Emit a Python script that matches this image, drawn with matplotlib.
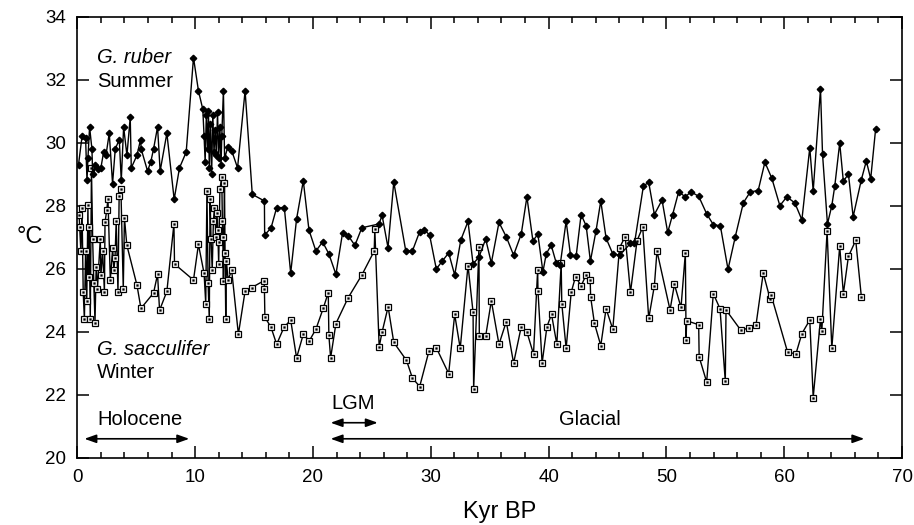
import matplotlib
matplotlib.use("Agg")
import matplotlib.pyplot as plt
from matplotlib.ticker import MultipleLocator

plt.rcParams['font.family'] = ['Liberation Sans', 'DejaVu Sans']

# G. ruber (summer) - age in kyr BP, temperature in deg C
ruber_age = [0.1, 0.4, 0.7, 0.82, 0.9, 1.04, 1.24, 1.3, 1.5, 1.72, 2.0, 2.23, 2.43, 2.71, 2.99,
             3.22, 3.56, 3.73, 3.93, 4.21, 4.49, 4.58, 5.06, 5.37, 5.42, 5.96, 6.24, 6.47, 6.81,
             7.03, 7.6, 8.22, 8.67, 9.24, 9.86, 10.28, 10.65, 10.76, 10.85, 10.95, 11.05, 11.13,
             11.2, 11.3, 11.4, 11.5, 11.6, 11.7, 11.8, 11.9, 12.0, 12.1, 12.2, 12.26, 12.4, 12.5,
             12.76, 13.1, 13.6, 14.24, 14.85, 15.88, 15.9, 16.44, 16.92, 17.57, 18.11, 18.61,
             19.18, 19.66, 20.25, 20.82, 21.35, 21.95, 22.51, 22.99, 23.56, 24.15, 25.6, 25.87,
             26.37, 26.86, 27.88, 28.44, 29.06, 29.43, 29.9, 30.47, 30.95, 31.52, 32.03, 32.55,
             33.16, 33.59, 34.09, 34.66, 35.14, 35.79, 36.41, 37.03, 37.68, 38.16, 38.67, 39.09,
             39.52, 39.8, 40.22, 40.65, 40.98, 41.49, 41.86, 42.34, 42.76, 43.19, 43.55, 44.03,
             44.43, 44.88, 45.45, 46.02, 46.95, 47.29, 48.05, 48.5, 48.98, 49.63, 50.11, 50.53,
             51.04, 51.61, 52.08, 52.74, 53.42, 53.98, 54.58, 55.23, 55.85, 56.53, 57.12, 57.79,
             58.36, 58.95, 59.63, 60.22, 60.9, 61.5, 62.17, 62.46, 63.08, 63.25, 63.67, 64.04,
             64.29, 64.71, 65.02, 65.45, 65.85, 66.55, 66.97, 67.34, 67.76]
ruber_temp = [29.3, 30.2, 30.15, 28.8, 29.5, 30.5, 29.8, 29.0, 29.3, 29.15, 29.2, 29.7, 29.6, 30.3, 28.7,
              29.8, 30.1, 28.8, 30.5, 29.6, 30.8, 29.2, 29.6, 30.1, 29.8, 29.1, 29.4, 29.8, 30.5,
              29.1, 30.3, 28.2, 29.2, 29.7, 32.7, 31.65, 31.06, 30.2, 29.4, 30.88, 29.8, 31.0,
              29.2, 30.6, 29.0, 30.88, 29.7, 30.4, 29.6, 30.97, 29.5, 30.5, 29.3, 30.2, 31.65, 29.5,
              29.85, 29.75, 29.2, 31.65, 28.36, 28.15, 27.07, 27.29, 27.94, 27.94, 25.86, 27.58,
              28.79, 27.23, 26.56, 26.85, 26.47, 25.82, 27.13, 27.05, 26.74, 27.3, 27.42, 27.69,
              26.67, 28.75, 26.56, 26.56, 27.18, 27.24, 27.07, 25.99, 26.23, 26.5, 25.8, 26.91,
              27.5, 26.15, 26.37, 26.94, 26.18, 27.47, 27.01, 26.43, 27.1, 28.28, 26.88, 27.1,
              25.9, 26.47, 26.75, 26.18, 26.11, 27.51, 26.43, 26.4, 27.72, 27.36, 26.24, 27.21,
              28.15, 26.97, 26.47, 26.43, 26.8, 26.8, 28.63, 28.74, 27.72, 28.18, 27.15, 27.72,
              28.44, 28.28, 28.44, 28.3, 27.74, 27.4, 27.36, 25.98, 27.02, 28.09, 28.44, 28.48,
              29.38, 28.87, 28.0, 28.28, 28.09, 27.55, 29.84, 28.47, 31.71, 29.65, 27.42, 28.0,
              28.62, 29.99, 28.77, 29.01, 27.65, 28.83, 29.42, 28.85, 30.44]

# G. sacculifer (winter)
sacc_age = [0.15, 0.2, 0.3, 0.4, 0.5, 0.6, 0.7, 0.8, 0.9, 0.95, 1.0, 1.1, 1.2, 1.3, 1.4, 1.5, 1.6,
            1.7, 1.95, 2.0, 2.15, 2.3, 2.35, 2.5, 2.6, 2.8, 3.0, 3.1, 3.2, 3.3, 3.45, 3.55, 3.7,
            3.9, 4.0, 4.2, 5.06, 5.4, 6.47, 6.81, 6.98, 7.6, 8.2, 8.25, 9.86, 10.28, 10.76, 10.9,
            11.0, 11.1, 11.2, 11.27, 11.35, 11.45, 11.55, 11.64, 11.77, 11.85, 11.92, 12.0,
            12.03, 12.1, 12.26, 12.31, 12.35, 12.4, 12.49, 12.54, 12.6, 12.65, 12.8, 13.1,
            13.67, 14.24, 14.8, 15.85, 15.88, 15.92, 16.44, 16.92, 17.54, 18.11, 18.61, 19.18,
            19.69, 20.25, 20.87, 21.3, 21.35, 21.5, 21.95, 22.99, 24.15, 25.2, 25.25, 25.62,
            25.87, 26.38, 26.86, 27.94, 28.44, 29.06, 29.85, 30.47, 31.52, 32.03, 32.5, 33.16,
            33.59, 33.64, 34.09, 34.12, 34.66, 35.14, 35.79, 36.41, 37.03, 37.68, 38.16, 38.72,
            39.07, 39.1, 39.45, 39.86, 40.25, 40.7, 41.07, 41.12, 41.49, 41.92, 42.29, 42.76,
            43.19, 43.53, 43.57, 43.89, 44.43, 44.88, 45.45, 46.02, 46.5, 46.95, 47.51, 47.99,
            48.5, 48.98, 49.2, 50.31, 50.68, 51.24, 51.61, 51.67, 51.72, 52.74, 52.78, 53.42,
            53.98, 54.55, 55.0, 55.06, 56.33, 56.98, 57.6, 58.22, 58.8, 58.9, 60.28, 60.99,
            61.5, 62.17, 62.46, 63.08, 63.19, 63.64, 64.04, 64.71, 65.02, 65.45, 66.07, 66.55]
sacc_temp = [27.72, 27.32, 26.55, 27.92, 25.25, 24.39, 26.55, 24.99, 28.02, 25.75, 27.32, 24.39, 29.2,
             26.95, 25.55, 24.29, 26.05, 25.35, 26.95, 25.8, 26.55, 25.25, 27.47, 27.87, 28.22,
             25.65, 26.65, 25.95, 26.35, 27.52, 25.25, 28.32, 28.52, 25.35, 27.62, 26.75, 25.48,
             24.74, 25.23, 25.82, 24.68, 25.28, 27.42, 26.15, 25.64, 26.77, 25.85, 24.89, 28.47,
             25.55, 24.39, 28.22, 26.95, 25.95, 27.52, 27.92, 27.0, 27.77, 27.22, 26.15, 26.85,
             28.52, 28.92, 27.52, 27.02, 25.6, 28.72, 26.5, 24.39, 26.25, 25.65, 25.95, 23.92,
             25.29, 25.4, 25.62, 25.35, 24.46, 24.14, 23.6, 24.14, 24.37, 23.17, 23.92, 23.71,
             24.08, 24.74, 25.24, 23.89, 23.17, 24.26, 25.08, 25.8, 26.56, 27.25, 23.52, 23.99,
             24.79, 23.66, 23.09, 22.53, 22.26, 23.39, 23.49, 22.67, 24.55, 23.47, 26.1, 24.62,
             22.18, 26.69, 23.86, 23.86, 24.98, 23.6, 24.32, 23.0, 24.16, 23.99, 23.29, 25.95,
             25.3, 23.0, 24.16, 24.55, 23.6, 26.17, 24.89, 23.47, 25.25, 25.75, 25.45, 25.81,
             25.65, 25.1, 24.27, 23.56, 24.73, 24.08, 26.66, 27.02, 25.25, 26.89, 27.32, 24.42,
             25.46, 26.56, 24.69, 25.5, 24.77, 26.5, 23.74, 24.35, 24.22, 23.2, 22.4, 25.21,
             24.73, 22.42, 24.69, 24.04, 24.12, 24.2, 25.86, 25.04, 25.15, 23.36, 23.29, 23.94,
             24.37, 21.91, 24.41, 24.01, 27.2, 23.47, 26.72, 25.21, 26.39, 26.9, 25.1]

fig = plt.figure(figsize=(9.14, 5.25), dpi=100)
ax = fig.add_axes([0.0846, 0.1282, 0.9023, 0.84])

ax.plot(ruber_age, ruber_temp, color='black', lw=1.0, marker='D', ms=3.3,
        mfc='black', mec='black', zorder=3)
ax.plot(sacc_age, sacc_temp, color='black', lw=1.0, marker='s', ms=4.3,
        mfc='white', mec='black', mew=0.9, zorder=2)
# small mark inside each open square, as in the original figure
ax.plot(sacc_age, sacc_temp, ls='none', marker='s', ms=1.3, mfc='black', mec='black',
        mew=0.3, zorder=2)

ax.set_xlim(0, 70)
ax.set_ylim(20, 34)
ax.xaxis.set_major_locator(MultipleLocator(10))
ax.xaxis.set_minor_locator(MultipleLocator(2))
ax.yaxis.set_major_locator(MultipleLocator(2))
ax.tick_params(which='both', direction='in', top=True, right=True, width=1.1,
               labelsize=13.5, pad=8)
ax.tick_params(which='major', length=8.5)
ax.tick_params(which='minor', length=4.3)
for s in ax.spines.values():
    s.set_linewidth(1.2)

ax.set_xlabel('Kyr BP', fontsize=17)
ax.xaxis.set_label_coords(0.5125, -0.123)
ax.xaxis.label.set_va('center')
fig.text(0.018, 0.548, '°C', fontsize=17, ha='left', va='center')

# species labels
ax.text(1.7, 32.7, 'G. ruber', fontsize=14.5, style='italic', ha='left', va='center')
ax.text(1.7, 31.94, 'Summer', fontsize=14.5, ha='left', va='center')
ax.text(1.7, 23.43, 'G. sacculifer', fontsize=14.5, style='italic', ha='left', va='center')
ax.text(1.7, 22.7, 'Winter', fontsize=14.5, ha='left', va='center')

# period arrows
arrow = dict(arrowstyle='<|-|>,head_length=0.7,head_width=0.25', lw=1.2, color='black',
             shrinkA=0, shrinkB=0)
ax.annotate('', xy=(0.6, 20.6), xytext=(9.5, 20.6), arrowprops=arrow)
ax.text(5.3, 21.22, 'Holocene', fontsize=14.5, ha='center', va='center')
ax.annotate('', xy=(21.5, 21.11), xytext=(25.5, 21.11), arrowprops=arrow)
ax.text(23.4, 21.71, 'LGM', fontsize=14.5, ha='center', va='center')
ax.annotate('', xy=(21.5, 20.6), xytext=(66.8, 20.6), arrowprops=arrow)
ax.text(43.5, 21.22, 'Glacial', fontsize=14.5, ha='center', va='center')

fig.savefig('out.png', dpi=100)
